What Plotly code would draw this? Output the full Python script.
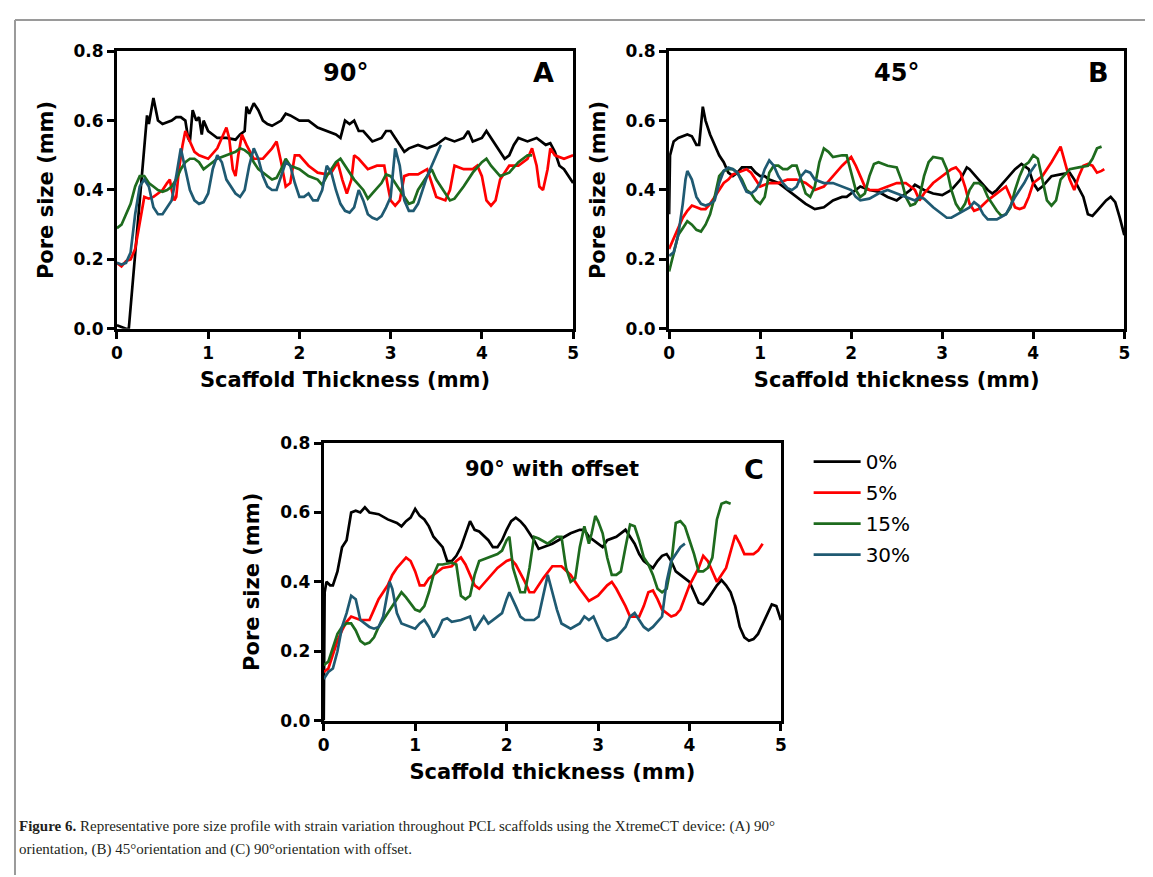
import plotly.graph_objects as go

W, H = 1153, 877

series_names = ["0%", "5%", "15%", "30%"]
series_colors = ["#000000", "#ff0000", "#1e6b1e", "#1f5a72"]

# ---------------- Panel A (90º) ----------------
a_black_x = [0, 0.1, 0.13, 0.33, 0.35, 0.40, 0.45, 0.5, 0.6, 0.65, 0.7, 0.75, 0.78, 0.8, 0.83, 0.87, 0.9, 0.93, 0.95, 1.0, 1.05, 1.1, 1.2, 1.3, 1.35, 1.4, 1.42, 1.45, 1.5, 1.55, 1.6, 1.65, 1.7, 1.8, 1.85, 1.9, 2.0, 2.1, 2.2, 2.3, 2.4, 2.45, 2.5, 2.55, 2.6, 2.65, 2.7, 2.8, 2.9, 2.95, 3.0, 3.05, 3.1, 3.15, 3.2, 3.3, 3.4, 3.5, 3.6, 3.7, 3.8, 3.85, 3.9, 4.0, 4.05, 4.1, 4.15, 4.2, 4.25, 4.3, 4.35, 4.4, 4.5, 4.6, 4.65, 4.7, 4.75, 4.8, 4.85, 4.9, 5.0]
a_black_y = [0.01, 0.0, 0.0, 0.615, 0.59, 0.665, 0.6, 0.59, 0.6, 0.61, 0.61, 0.6, 0.55, 0.54, 0.63, 0.6, 0.61, 0.56, 0.6, 0.57, 0.56, 0.55, 0.55, 0.545, 0.56, 0.57, 0.64, 0.62, 0.65, 0.63, 0.6, 0.59, 0.585, 0.6, 0.62, 0.615, 0.6, 0.6, 0.58, 0.57, 0.56, 0.55, 0.6, 0.59, 0.6, 0.57, 0.57, 0.54, 0.55, 0.57, 0.57, 0.55, 0.53, 0.51, 0.52, 0.53, 0.52, 0.53, 0.55, 0.54, 0.55, 0.57, 0.54, 0.55, 0.57, 0.55, 0.53, 0.51, 0.49, 0.5, 0.53, 0.55, 0.54, 0.55, 0.54, 0.53, 0.535, 0.51, 0.47, 0.46, 0.42]

a_red_x = [0, 0.05, 0.1, 0.15, 0.2, 0.25, 0.3, 0.35, 0.4, 0.45, 0.5, 0.55, 0.58, 0.6, 0.63, 0.65, 0.68, 0.72, 0.75, 0.8, 0.85, 0.9, 1.0, 1.1, 1.15, 1.2, 1.23, 1.27, 1.3, 1.33, 1.37, 1.42, 1.5, 1.6, 1.7, 1.75, 1.8, 1.85, 1.9, 1.95, 2.0, 2.1, 2.2, 2.3, 2.35, 2.42, 2.47, 2.52, 2.57, 2.6, 2.65, 2.75, 2.85, 2.93, 2.97, 3.0, 3.05, 3.1, 3.15, 3.2, 3.3, 3.4, 3.45, 3.5, 3.6, 3.65, 3.7, 3.8, 3.9, 3.95, 4.0, 4.05, 4.1, 4.15, 4.2, 4.3, 4.4, 4.5, 4.55, 4.6, 4.63, 4.67, 4.72, 4.75, 4.8, 4.9, 5.0]
a_red_y = [0.19, 0.18, 0.195, 0.2, 0.23, 0.3, 0.38, 0.375, 0.38, 0.39, 0.4, 0.42, 0.43, 0.4, 0.37, 0.38, 0.46, 0.53, 0.57, 0.54, 0.51, 0.5, 0.49, 0.52, 0.55, 0.58, 0.55, 0.46, 0.44, 0.5, 0.56, 0.53, 0.49, 0.49, 0.52, 0.54, 0.48, 0.41, 0.42, 0.5, 0.5, 0.47, 0.45, 0.445, 0.45, 0.48, 0.43, 0.39, 0.43, 0.5, 0.49, 0.46, 0.47, 0.47, 0.41, 0.37, 0.355, 0.37, 0.44, 0.445, 0.445, 0.46, 0.42, 0.38, 0.37, 0.4, 0.47, 0.46, 0.46, 0.47, 0.44, 0.37, 0.355, 0.37, 0.43, 0.47, 0.47, 0.49, 0.52, 0.47, 0.41, 0.40, 0.46, 0.52, 0.50, 0.49, 0.50]

a_green_x = [0, 0.05, 0.1, 0.15, 0.2, 0.25, 0.3, 0.35, 0.4, 0.45, 0.5, 0.55, 0.6, 0.65, 0.7, 0.75, 0.8, 0.85, 0.9, 0.95, 1.0, 1.1, 1.2, 1.3, 1.35, 1.4, 1.45, 1.5, 1.55, 1.6, 1.7, 1.75, 1.8, 1.85, 1.9, 2.0, 2.1, 2.2, 2.25, 2.3, 2.4, 2.45, 2.5, 2.6, 2.7, 2.75, 2.8, 2.9, 2.95, 3.0, 3.1, 3.2, 3.25, 3.3, 3.4, 3.45, 3.5, 3.6, 3.65, 3.7, 3.8, 3.9, 4.0, 4.05, 4.1, 4.2, 4.3, 4.4, 4.5, 4.55]
a_green_y = [0.29, 0.3, 0.33, 0.36, 0.41, 0.44, 0.44, 0.42, 0.41, 0.4, 0.395, 0.40, 0.41, 0.43, 0.46, 0.48, 0.49, 0.49, 0.48, 0.46, 0.47, 0.49, 0.50, 0.51, 0.52, 0.515, 0.505, 0.48, 0.46, 0.45, 0.43, 0.435, 0.46, 0.49, 0.47, 0.46, 0.44, 0.43, 0.415, 0.44, 0.48, 0.49, 0.47, 0.43, 0.40, 0.375, 0.39, 0.42, 0.445, 0.44, 0.4, 0.36, 0.365, 0.4, 0.44, 0.46, 0.43, 0.39, 0.37, 0.375, 0.41, 0.45, 0.48, 0.49, 0.47, 0.44, 0.45, 0.48, 0.5, 0.50]

a_teal_x = [0, 0.05, 0.1, 0.15, 0.2, 0.25, 0.3, 0.35, 0.4, 0.45, 0.5, 0.55, 0.6, 0.65, 0.7, 0.75, 0.8, 0.85, 0.9, 0.95, 1.0, 1.05, 1.1, 1.15, 1.2, 1.3, 1.35, 1.4, 1.45, 1.5, 1.55, 1.6, 1.65, 1.7, 1.75, 1.8, 1.85, 1.9, 1.95, 2.0, 2.05, 2.1, 2.15, 2.2, 2.25, 2.3, 2.35, 2.4, 2.45, 2.5, 2.55, 2.6, 2.65, 2.7, 2.75, 2.8, 2.85, 2.9, 2.95, 3.0, 3.05, 3.1, 3.15, 3.2, 3.25, 3.3, 3.4, 3.5, 3.55]
a_teal_y = [0.19, 0.185, 0.19, 0.22, 0.33, 0.41, 0.43, 0.41, 0.35, 0.33, 0.33, 0.35, 0.37, 0.44, 0.52, 0.46, 0.40, 0.37, 0.36, 0.365, 0.39, 0.46, 0.5, 0.48, 0.43, 0.39, 0.38, 0.40, 0.47, 0.52, 0.49, 0.44, 0.41, 0.40, 0.4, 0.44, 0.48, 0.47, 0.42, 0.38, 0.38, 0.39, 0.37, 0.37, 0.4, 0.47, 0.45, 0.4, 0.36, 0.34, 0.335, 0.35, 0.4, 0.37, 0.33, 0.32, 0.315, 0.325, 0.35, 0.38, 0.52, 0.47, 0.37, 0.34, 0.34, 0.36, 0.44, 0.5, 0.53]

# ---------------- Panel B (45º) ----------------
b_black_x = [0, 0.01, 0.05, 0.1, 0.2, 0.25, 0.3, 0.33, 0.37, 0.4, 0.45, 0.5, 0.55, 0.6, 0.65, 0.7, 0.75, 0.8, 0.9, 0.95, 1.0, 1.05, 1.1, 1.2, 1.3, 1.4, 1.5, 1.6, 1.7, 1.8, 1.9, 1.95, 2.0, 2.1, 2.2, 2.3, 2.4, 2.5, 2.55, 2.65, 2.7, 2.8, 2.9, 3.0, 3.1, 3.2, 3.27, 3.3, 3.4, 3.5, 3.55, 3.6, 3.7, 3.8, 3.87, 3.95, 4.0, 4.05, 4.1, 4.2, 4.3, 4.4, 4.45, 4.55, 4.6, 4.65, 4.7, 4.8, 4.85, 4.9, 4.95, 5.0]
b_black_y = [0.33, 0.5, 0.54, 0.55, 0.56, 0.555, 0.53, 0.53, 0.64, 0.6, 0.56, 0.53, 0.5, 0.48, 0.45, 0.44, 0.45, 0.465, 0.465, 0.45, 0.44, 0.44, 0.43, 0.42, 0.4, 0.38, 0.36, 0.345, 0.35, 0.37, 0.38, 0.38, 0.39, 0.41, 0.40, 0.395, 0.38, 0.37, 0.38, 0.4, 0.415, 0.4, 0.39, 0.385, 0.4, 0.43, 0.465, 0.46, 0.43, 0.4, 0.39, 0.4, 0.43, 0.46, 0.475, 0.46, 0.42, 0.40, 0.41, 0.44, 0.445, 0.45, 0.43, 0.38, 0.33, 0.325, 0.34, 0.37, 0.38, 0.365, 0.32, 0.27]

b_red_x = [0, 0.05, 0.1, 0.15, 0.2, 0.25, 0.3, 0.35, 0.4, 0.45, 0.5, 0.55, 0.6, 0.65, 0.7, 0.75, 0.8, 0.85, 0.9, 0.95, 1.0, 1.05, 1.1, 1.2, 1.3, 1.4, 1.5, 1.6, 1.7, 1.8, 1.9, 2.0, 2.05, 2.1, 2.15, 2.2, 2.3, 2.4, 2.5, 2.6, 2.7, 2.75, 2.8, 2.9, 3.0, 3.1, 3.15, 3.2, 3.25, 3.3, 3.35, 3.4, 3.5, 3.6, 3.65, 3.7, 3.75, 3.8, 3.85, 3.9, 3.95, 4.0, 4.1, 4.2, 4.3, 4.35, 4.4, 4.45, 4.5, 4.55, 4.6, 4.65, 4.7, 4.75, 4.78]
b_red_y = [0.23, 0.26, 0.29, 0.32, 0.34, 0.355, 0.35, 0.345, 0.345, 0.36, 0.38, 0.40, 0.42, 0.43, 0.445, 0.45, 0.455, 0.46, 0.45, 0.43, 0.41, 0.415, 0.42, 0.42, 0.43, 0.43, 0.42, 0.40, 0.41, 0.44, 0.47, 0.495, 0.47, 0.44, 0.41, 0.40, 0.40, 0.41, 0.42, 0.42, 0.40, 0.37, 0.39, 0.42, 0.44, 0.46, 0.465, 0.45, 0.41, 0.36, 0.34, 0.345, 0.37, 0.39, 0.40, 0.41, 0.38, 0.35, 0.345, 0.35, 0.38, 0.42, 0.44, 0.48, 0.525, 0.48, 0.43, 0.40, 0.44, 0.47, 0.475, 0.47, 0.45, 0.455, 0.46]

b_green_x = [0, 0.05, 0.1, 0.15, 0.2, 0.25, 0.3, 0.35, 0.4, 0.45, 0.5, 0.55, 0.6, 0.65, 0.7, 0.75, 0.8, 0.85, 0.9, 0.95, 1.0, 1.05, 1.1, 1.15, 1.2, 1.25, 1.3, 1.35, 1.4, 1.45, 1.5, 1.55, 1.6, 1.65, 1.7, 1.75, 1.8, 1.9, 1.95, 2.0, 2.05, 2.1, 2.15, 2.2, 2.25, 2.3, 2.4, 2.5, 2.55, 2.6, 2.65, 2.7, 2.75, 2.8, 2.85, 2.9, 3.0, 3.05, 3.1, 3.15, 3.2, 3.25, 3.3, 3.35, 3.4, 3.45, 3.5, 3.6, 3.65, 3.7, 3.75, 3.8, 3.85, 3.9, 3.95, 4.0, 4.05, 4.1, 4.15, 4.2, 4.25, 4.3, 4.4, 4.5, 4.6, 4.65, 4.7, 4.75]
b_green_y = [0.165, 0.22, 0.27, 0.29, 0.31, 0.30, 0.285, 0.28, 0.30, 0.33, 0.38, 0.44, 0.455, 0.46, 0.46, 0.45, 0.43, 0.40, 0.39, 0.37, 0.36, 0.38, 0.45, 0.47, 0.47, 0.46, 0.46, 0.47, 0.47, 0.43, 0.39, 0.38, 0.41, 0.48, 0.52, 0.51, 0.495, 0.5, 0.5, 0.45, 0.40, 0.38, 0.39, 0.44, 0.475, 0.48, 0.47, 0.465, 0.43, 0.38, 0.355, 0.36, 0.38, 0.44, 0.48, 0.495, 0.49, 0.46, 0.4, 0.36, 0.34, 0.36, 0.40, 0.42, 0.42, 0.41, 0.38, 0.34, 0.325, 0.33, 0.35, 0.40, 0.44, 0.47, 0.48, 0.50, 0.49, 0.43, 0.37, 0.355, 0.37, 0.43, 0.46, 0.465, 0.47, 0.49, 0.52, 0.525]

b_teal_x = [0, 0.05, 0.1, 0.15, 0.18, 0.2, 0.25, 0.3, 0.35, 0.4, 0.45, 0.5, 0.55, 0.6, 0.65, 0.7, 0.75, 0.8, 0.85, 0.9, 0.95, 1.0, 1.05, 1.1, 1.15, 1.2, 1.25, 1.3, 1.35, 1.4, 1.45, 1.5, 1.55, 1.6, 1.7, 1.8, 1.9, 2.0, 2.05, 2.1, 2.2, 2.3, 2.4, 2.5, 2.6, 2.7, 2.75, 2.8, 2.9, 3.0, 3.05, 3.1, 3.2, 3.3, 3.35, 3.4, 3.45, 3.5, 3.6, 3.7, 3.8, 3.9, 3.95, 4.0, 4.03]
b_teal_y = [0.21, 0.22, 0.27, 0.36, 0.43, 0.455, 0.43, 0.38, 0.36, 0.355, 0.36, 0.37, 0.42, 0.455, 0.465, 0.46, 0.45, 0.42, 0.395, 0.39, 0.4, 0.42, 0.46, 0.485, 0.47, 0.44, 0.42, 0.405, 0.40, 0.41, 0.44, 0.455, 0.45, 0.43, 0.42, 0.42, 0.41, 0.40, 0.38, 0.37, 0.375, 0.39, 0.40, 0.39, 0.38, 0.37, 0.38, 0.375, 0.35, 0.33, 0.32, 0.32, 0.335, 0.35, 0.365, 0.355, 0.33, 0.315, 0.315, 0.33, 0.38, 0.42, 0.445, 0.465, 0.475]

# ---------------- Panel C (90º with offset) ----------------
c_black_x = [0, 0.01, 0.03, 0.07, 0.1, 0.15, 0.2, 0.25, 0.3, 0.35, 0.4, 0.45, 0.5, 0.6, 0.7, 0.8, 0.85, 0.9, 0.95, 1.0, 1.05, 1.1, 1.15, 1.2, 1.3, 1.35, 1.4, 1.45, 1.5, 1.55, 1.6, 1.65, 1.7, 1.8, 1.85, 1.9, 1.95, 2.0, 2.05, 2.1, 2.15, 2.2, 2.25, 2.3, 2.35, 2.4, 2.5, 2.6, 2.7, 2.8, 2.85, 2.9, 2.95, 3.0, 3.05, 3.1, 3.2, 3.3, 3.35, 3.4, 3.45, 3.5, 3.6, 3.65, 3.7, 3.75, 3.8, 3.85, 3.9, 3.95, 4.0, 4.05, 4.1, 4.15, 4.2, 4.25, 4.3, 4.35, 4.4, 4.45, 4.5, 4.55, 4.6, 4.65, 4.7, 4.75, 4.8, 4.85, 4.9, 4.95, 5.0]
c_black_y = [0.0, 0.37, 0.40, 0.39, 0.39, 0.43, 0.5, 0.52, 0.6, 0.605, 0.6, 0.615, 0.6, 0.595, 0.58, 0.57, 0.56, 0.575, 0.585, 0.61, 0.59, 0.58, 0.56, 0.53, 0.5, 0.46, 0.46, 0.475, 0.5, 0.54, 0.575, 0.55, 0.545, 0.52, 0.5, 0.5, 0.52, 0.55, 0.575, 0.585, 0.575, 0.56, 0.54, 0.52, 0.495, 0.50, 0.51, 0.525, 0.54, 0.55, 0.55, 0.53, 0.52, 0.51, 0.5, 0.52, 0.53, 0.55, 0.53, 0.51, 0.48, 0.46, 0.44, 0.46, 0.475, 0.48, 0.46, 0.43, 0.42, 0.41, 0.40, 0.37, 0.34, 0.335, 0.35, 0.37, 0.39, 0.405, 0.39, 0.37, 0.33, 0.27, 0.24, 0.23, 0.235, 0.25, 0.28, 0.31, 0.335, 0.33, 0.29]

c_red_x = [0, 0.05, 0.1, 0.15, 0.2, 0.25, 0.3, 0.35, 0.4, 0.45, 0.5, 0.55, 0.6, 0.7, 0.75, 0.8, 0.85, 0.9, 0.95, 1.0, 1.05, 1.1, 1.15, 1.2, 1.3, 1.4, 1.45, 1.5, 1.55, 1.6, 1.65, 1.7, 1.8, 1.9, 2.0, 2.05, 2.1, 2.2, 2.25, 2.3, 2.4, 2.5, 2.6, 2.7, 2.8, 2.9, 3.0, 3.1, 3.15, 3.2, 3.3, 3.35, 3.45, 3.5, 3.55, 3.6, 3.65, 3.7, 3.8, 3.85, 3.9, 4.0, 4.1, 4.15, 4.2, 4.3, 4.4, 4.45, 4.5, 4.55, 4.6, 4.7, 4.75, 4.8]
c_red_y = [0.14, 0.15, 0.19, 0.23, 0.26, 0.285, 0.30, 0.295, 0.29, 0.29, 0.29, 0.32, 0.35, 0.39, 0.42, 0.44, 0.455, 0.47, 0.46, 0.43, 0.39, 0.39, 0.41, 0.42, 0.44, 0.445, 0.46, 0.47, 0.45, 0.42, 0.39, 0.38, 0.41, 0.44, 0.46, 0.465, 0.45, 0.40, 0.37, 0.37, 0.41, 0.445, 0.445, 0.42, 0.38, 0.345, 0.36, 0.39, 0.40, 0.38, 0.33, 0.3, 0.3, 0.33, 0.37, 0.375, 0.35, 0.32, 0.30, 0.305, 0.32, 0.39, 0.44, 0.475, 0.46, 0.40, 0.44, 0.49, 0.535, 0.51, 0.48, 0.48, 0.49, 0.51]

c_green_x = [0, 0.05, 0.1, 0.15, 0.2, 0.25, 0.3, 0.35, 0.4, 0.45, 0.5, 0.55, 0.6, 0.7, 0.8, 0.85, 0.9, 1.0, 1.05, 1.1, 1.15, 1.2, 1.25, 1.3, 1.4, 1.45, 1.5, 1.55, 1.6, 1.65, 1.7, 1.8, 1.9, 1.95, 2.0, 2.03, 2.07, 2.15, 2.2, 2.25, 2.3, 2.35, 2.45, 2.55, 2.6, 2.65, 2.7, 2.75, 2.8, 2.85, 2.9, 2.93, 2.97, 3.0, 3.05, 3.1, 3.15, 3.2, 3.25, 3.3, 3.35, 3.4, 3.45, 3.5, 3.55, 3.6, 3.65, 3.7, 3.75, 3.8, 3.85, 3.9, 3.95, 4.0, 4.05, 4.1, 4.15, 4.2, 4.25, 4.3, 4.35, 4.4, 4.45]
c_green_y = [0.16, 0.17, 0.21, 0.25, 0.27, 0.28, 0.28, 0.26, 0.23, 0.22, 0.225, 0.24, 0.27, 0.31, 0.35, 0.37, 0.355, 0.32, 0.315, 0.33, 0.37, 0.42, 0.45, 0.45, 0.455, 0.45, 0.36, 0.35, 0.36, 0.42, 0.46, 0.47, 0.48, 0.49, 0.52, 0.53, 0.44, 0.37, 0.37, 0.44, 0.53, 0.525, 0.51, 0.53, 0.53, 0.44, 0.40, 0.41, 0.50, 0.56, 0.51, 0.54, 0.59, 0.575, 0.54, 0.47, 0.42, 0.42, 0.43, 0.5, 0.565, 0.56, 0.52, 0.47, 0.45, 0.42, 0.38, 0.37, 0.38, 0.45, 0.57, 0.575, 0.56, 0.52, 0.48, 0.43, 0.43, 0.44, 0.47, 0.58, 0.625, 0.63, 0.625]

c_teal_x = [0, 0.05, 0.1, 0.15, 0.2, 0.25, 0.3, 0.35, 0.4, 0.45, 0.5, 0.55, 0.6, 0.65, 0.7, 0.72, 0.75, 0.8, 0.85, 0.9, 0.95, 1.0, 1.05, 1.1, 1.15, 1.2, 1.25, 1.3, 1.35, 1.4, 1.5, 1.6, 1.65, 1.7, 1.75, 1.8, 1.85, 1.9, 1.95, 2.0, 2.03, 2.1, 2.15, 2.2, 2.3, 2.35, 2.4, 2.45, 2.5, 2.55, 2.6, 2.7, 2.8, 2.85, 2.9, 2.95, 3.0, 3.05, 3.1, 3.2, 3.3, 3.35, 3.4, 3.45, 3.5, 3.55, 3.6, 3.7, 3.75, 3.8, 3.85, 3.9, 3.95]
c_teal_y = [0.12, 0.14, 0.15, 0.20, 0.27, 0.31, 0.36, 0.35, 0.29, 0.28, 0.27, 0.265, 0.27, 0.30, 0.38, 0.40, 0.38, 0.31, 0.28, 0.275, 0.27, 0.265, 0.28, 0.29, 0.27, 0.24, 0.26, 0.29, 0.295, 0.285, 0.29, 0.30, 0.26, 0.28, 0.30, 0.28, 0.29, 0.30, 0.31, 0.35, 0.37, 0.33, 0.30, 0.29, 0.29, 0.30, 0.36, 0.42, 0.37, 0.32, 0.28, 0.265, 0.28, 0.30, 0.29, 0.30, 0.27, 0.24, 0.23, 0.24, 0.27, 0.30, 0.31, 0.29, 0.27, 0.26, 0.27, 0.30, 0.40, 0.46, 0.48, 0.50, 0.51]

x_ticks = [0, 1, 2, 3, 4, 5]
y_ticks = [0.0, 0.2, 0.4, 0.6, 0.8]

panel_titles = ["90°", "45°", "90° with offset"]
panel_letters = ["A", "B", "C"]
x_titles = ["Scaffold Thickness (mm)", "Scaffold thickness (mm)", "Scaffold thickness (mm)"]
y_title = "Pore size (mm)"
caption_line1 = "<b>Figure 6.</b> Representative pore size profile with strain variation throughout PCL scaffolds using the XtremeCT device: (A) 90°"
caption_line2 = "orientation, (B) 45°orientation and (C) 90°orientation with offset."

panels = [
    [(a_black_x, a_black_y), (a_red_x, a_red_y), (a_green_x, a_green_y), (a_teal_x, a_teal_y)],
    [(b_black_x, b_black_y), (b_red_x, b_red_y), (b_green_x, b_green_y), (b_teal_x, b_teal_y)],
    [(c_black_x, c_black_y), (c_red_x, c_red_y), (c_green_x, c_green_y), (c_teal_x, c_teal_y)],
]

# pixel boxes (left, right, top, bottom) of each plot area
boxes = [(104, 565, 34, 318), (662, 1122, 34, 318), (313, 775, 435, 719)]
title_y = [0.922, 0.922, 0.905]
title_size = [24, 24, 21]
letter_x = [0.962, 0.97, 0.967]

fig = go.Figure()
FONT = "DejaVu Sans, Verdana, sans-serif"

for p, (series, box) in enumerate(zip(panels, boxes)):
    xa = "x" if p == 0 else f"x{p+1}"
    ya = "y" if p == 0 else f"y{p+1}"
    for s, (xs, ys) in enumerate(series):
        fig.add_trace(go.Scatter(
            x=xs, y=ys, mode="lines", name=series_names[s],
            line=dict(color=series_colors[s], width=2.7),
            xaxis=xa, yaxis=ya,
            showlegend=(p == 2), legendgroup=series_names[s],
        ))
    l, r, t, b = box
    axis_common = dict(showline=True, linecolor="black", linewidth=3, mirror=True,
                       ticks="outside", ticklen=7, tickwidth=3, tickcolor="black",
                       showgrid=False, zeroline=False,
                       tickfont=dict(family=FONT, size=17, color="black", weight="bold"))
    fig.layout[f"xaxis{'' if p == 0 else p+1}"] = dict(
        domain=[l / W, r / W], anchor=ya, range=[0, 5], tickvals=x_ticks,
        title=dict(text=x_titles[p], font=dict(family=FONT, size=21, color="black", weight="bold"), standoff=11),
        **axis_common)
    fig.layout[f"yaxis{'' if p == 0 else p+1}"] = dict(
        domain=[1 - b / H, 1 - t / H], anchor=xa, range=[0, 0.8], tickvals=y_ticks, tickformat=".1f",
        title=dict(text=y_title, font=dict(family=FONT, size=21, color="black", weight="bold"), standoff=15),
        **axis_common)
    fig.add_annotation(xref=f"{xa} domain", yref=f"{ya} domain", x=0.5, y=title_y[p], xanchor="center", yanchor="middle",
                       text=panel_titles[p], showarrow=False,
                       font=dict(family=FONT, size=title_size[p], color="black", weight="bold"))
    fig.add_annotation(xref=f"{xa} domain", yref=f"{ya} domain", x=letter_x[p], y=title_y[p], xanchor="right", yanchor="middle",
                       text=panel_letters[p], showarrow=False,
                       font=dict(family=FONT, size=27, color="black", weight="bold"))

CAP_FONT = dict(family="Liberation Serif, Times New Roman, serif", size=15, color="#231f20")
fig.add_annotation(xref="paper", yref="paper", x=3 / W, y=1 - 827 / H, xanchor="left", yanchor="middle",
                   align="left", showarrow=False, text=caption_line1, font=CAP_FONT)
fig.add_annotation(xref="paper", yref="paper", x=3 / W, y=1 - 851 / H, xanchor="left", yanchor="middle",
                   align="left", showarrow=False, text=caption_line2, font=CAP_FONT)

# figure frame lines (grey)
fig.add_shape(type="line", xref="paper", yref="paper", x0=1 / W, x1=1, y0=1 - 2 / H, y1=1 - 2 / H,
              line=dict(color="#9a9a9a", width=2))
fig.add_shape(type="line", xref="paper", yref="paper", x0=1 / W, x1=1 / W, y0=0, y1=1 - 2 / H,
              line=dict(color="#9a9a9a", width=2))

fig.update_layout(
    width=W, height=H, margin=dict(l=0, r=0, t=0, b=0),
    paper_bgcolor="white", plot_bgcolor="white",
    showlegend=True,
    legend=dict(x=803 / W, y=1 - 434 / H, xanchor="left", yanchor="top",
                font=dict(family=FONT, size=20, color="black"),
                bgcolor="rgba(0,0,0,0)", tracegroupgap=2, itemwidth=47),
)

fig.write_html("out.html")
